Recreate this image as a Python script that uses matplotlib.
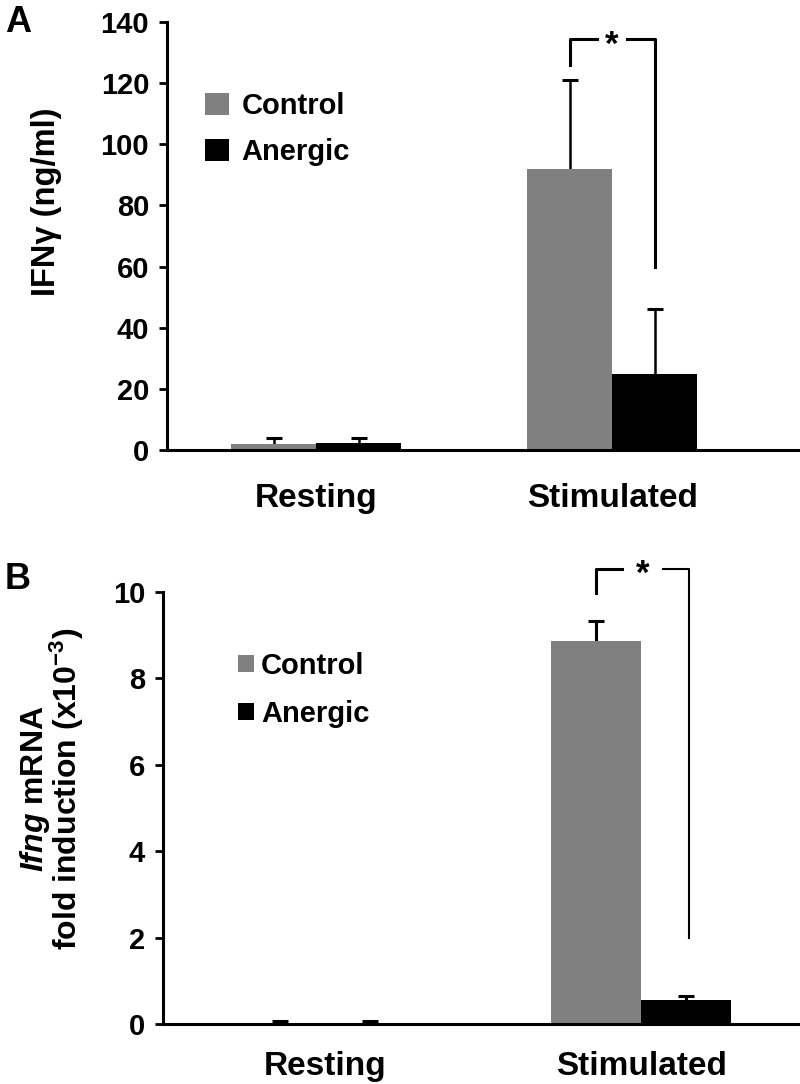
import numpy as np
import matplotlib
matplotlib.use('Agg')
from matplotlib import pyplot as plt

plt.rcParams['font.family'] = ['Liberation Sans', 'DejaVu Sans']
plt.rcParams['font.weight'] = 'bold'
plt.rcParams['mathtext.fontset'] = 'custom'
plt.rcParams['mathtext.rm'] = 'Liberation Sans:bold'
plt.rcParams['mathtext.it'] = 'Liberation Sans:italic:bold'
plt.rcParams['mathtext.bf'] = 'Liberation Sans:bold'

categories = ['Resting', 'Stimulated']
series = ['Control', 'Anergic']
colors = ['#808080', '#000000']

# Panel A: IFNg protein (ng/ml)
ifn_control = [2.0, 92.0]
ifn_control_err = [2.0, 29.0]
ifn_anergic = [2.2, 25.0]
ifn_anergic_err = [1.8, 21.0]

# Panel B: Ifng mRNA fold induction (x10^-3)
mrna_control = [0.03, 8.87]
mrna_control_err = [0.03, 0.47]
mrna_anergic = [0.03, 0.55]
mrna_anergic_err = [0.03, 0.1]

fig = plt.figure(figsize=(8, 10.84), dpi=100)
ax_a = fig.add_axes([0.209, 1 - 450 / 1084, 0.791, 428 / 1084])
ax_b = fig.add_axes([0.204, 1 - 1024 / 1084, 0.796, 432 / 1084])


def draw_panel(ax, ctrl, ctrl_err, anerg, anerg_err, width, ylim, yticks, xlim,
               err_lw, cap_ms, xpad):
    x = np.arange(len(categories))
    for vals, errs, col, off, name in [(ctrl, ctrl_err, colors[0], -width / 2, series[0]),
                                       (anerg, anerg_err, colors[1], width / 2, series[1])]:
        ax.bar(x + off, vals, width, color=col, label=name, zorder=2)
        tops = np.array(vals) + np.array(errs)
        ax.vlines(x + off, vals, tops, color='black', lw=err_lw, zorder=1)
        ax.plot(x + off, tops, ls='none', marker='_', ms=cap_ms, mew=2.2, color='black', zorder=1)
    ax.set_xlim(*xlim)
    ax.set_ylim(*ylim)
    ax.set_yticks(yticks)
    ax.set_xticks(x)
    ax.set_xticklabels(categories, fontsize=24, fontweight='bold')
    ax.tick_params(axis='x', length=0, pad=xpad)
    ax.tick_params(axis='y', direction='out', length=6, width=2, labelsize=21, pad=7)
    for lab in ax.get_yticklabels():
        lab.set_fontweight('bold')
    ax.spines['top'].set_visible(False)
    ax.spines['right'].set_visible(False)
    ax.spines['left'].set_linewidth(2.2)
    ax.spines['bottom'].set_linewidth(2.2)
    return x


x_a = draw_panel(ax_a, ifn_control, ifn_control_err, ifn_anergic, ifn_anergic_err,
                 0.287, (0, 140), np.arange(0, 141, 20), (-0.503, 1.635), 1.8, 11, 23.5)
x_b = draw_panel(ax_b, mrna_control, mrna_control_err, mrna_anergic, mrna_anergic_err,
                 0.285, (0, 10), np.arange(0, 11, 2), (-0.513, 1.503), 2.2, 12, 19.5)


def bracket(ax, xl, xr, y_left, y_top, y_right, star_y, gap, lw_right):
    xm = (xl + xr) / 2
    ax.plot([xl, xl, xm - gap], [y_left, y_top, y_top], color='black', lw=2.2, clip_on=False)
    ax.plot([xm + gap, xr, xr], [y_top, y_top, y_right], color='black', lw=lw_right, clip_on=False)
    ax.text(xm, star_y, '*', ha='center', va='center', fontsize=25, fontweight='bold')


w = 0.287
bracket(ax_a, x_a[1] - w / 2, x_a[1] + w / 2, 126, 134.6, 60, 132.5, 0.05, 2.2)
w = 0.285
bracket(ax_b, x_b[1] - w / 2, x_b[1] + w / 2 + 0.01, 9.98, 10.53, 2.0, 10.4, 0.065, 1.5)

ax_a.legend(loc='upper left', bbox_to_anchor=(0.06, 0.836), frameon=False,
            prop={'size': 21, 'weight': 'bold'}, handlelength=0.8, handleheight=0.8,
            handletextpad=0.45, labelspacing=0.62, borderpad=0, borderaxespad=0)
ax_b.legend(loc='upper left', bbox_to_anchor=(0.118, 0.861), frameon=False,
            prop={'size': 21, 'weight': 'bold'}, handlelength=0.52, handleheight=0.52,
            handletextpad=0.25, labelspacing=0.68, borderpad=0, borderaxespad=0)

ax_a.set_ylabel('IFNγ (ng/ml)', fontsize=23.5, fontweight='bold')
ax_a.yaxis.set_label_coords(-0.166, 0.579)
ax_b.set_ylabel('$\\it{Ifng}$ mRNA\nfold induction (x10$^{\\mathrm{-3}}$)', fontsize=23,
                fontweight='bold', linespacing=0.85)
ax_b.yaxis.set_label_coords(-0.122, 0.545)

fig.text(0.006, 0.995, 'A', fontsize=26, fontweight='bold', va='top')
fig.text(0.006, 0.482, 'B', fontsize=26, fontweight='bold', va='top')

fig.savefig('out.png', dpi=100)
